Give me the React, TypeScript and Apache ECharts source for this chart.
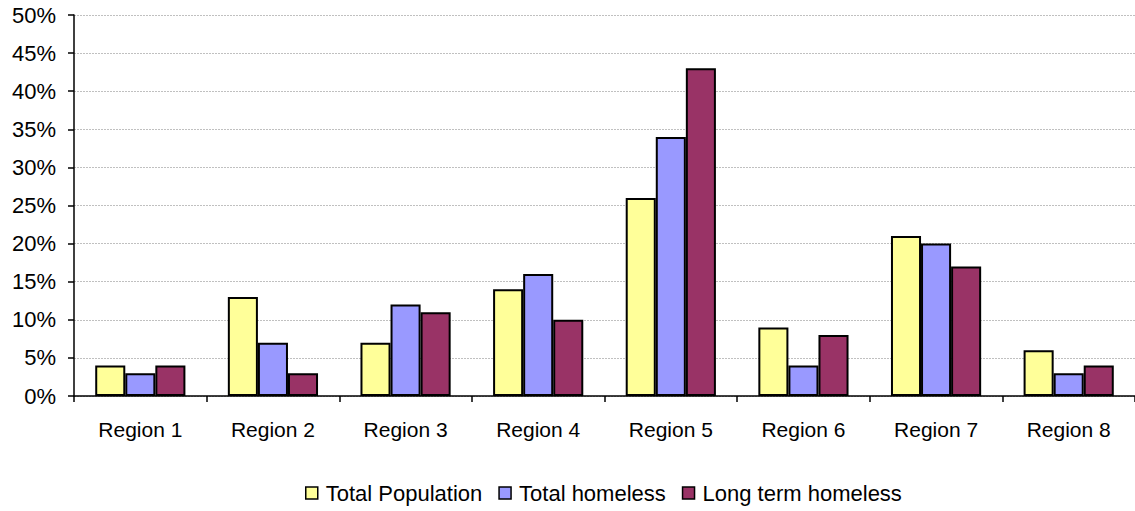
import React, { useEffect, useRef } from "react";
import * as echarts from "echarts";

const categories = ["Region 1", "Region 2", "Region 3", "Region 4", "Region 5", "Region 6", "Region 7", "Region 8"];
const totalPopulation = [4, 13, 7, 14, 26, 9, 21, 6];
const totalHomeless = [3, 7, 12, 16, 34, 4, 20, 3];
const longTermHomeless = [4, 3, 11, 10, 43, 8, 17, 4];
const seriesNames = ["Total Population", "Total homeless", "Long term homeless"];
const colors = ["#FFFF99", "#9999FF", "#993366"];

export default function App() {
  const ref = useRef<HTMLDivElement>(null);
  useEffect(() => {
    if (!ref.current) return;
    const chart = echarts.init(ref.current, undefined, { renderer: "svg" });
    const font = "Arial, 'Liberation Sans', sans-serif";
    const data = [totalPopulation, totalHomeless, longTermHomeless];
    chart.setOption({
      animation: false,
      textStyle: { fontFamily: font },
      grid: { left: 74, right: 0, top: 15, bottom: 115, containLabel: false },
      legend: {
        bottom: 2,
        left: 300,
        itemWidth: 12,
        itemHeight: 12,
        itemGap: 16,
        icon: "rect",
        itemStyle: { borderColor: "#000", borderWidth: 1.5 },
        textStyle: { fontSize: 22, color: "#000", fontFamily: font, padding: [0, 0, 0, 3] },
        data: seriesNames,
      },
      xAxis: {
        type: "category",
        data: categories,
        axisLine: { lineStyle: { color: "#000", width: 1.5 } },
        axisTick: { show: true, alignWithLabel: false, length: 6, lineStyle: { color: "#000", width: 1.5 } },
        axisLabel: { fontSize: 21, color: "#000", margin: 23, fontFamily: font },
      },
      yAxis: {
        type: "value",
        min: 0,
        max: 50,
        interval: 5,
        axisLine: { show: true, lineStyle: { color: "#000", width: 1.5 } },
        axisTick: { show: true, length: 6, lineStyle: { color: "#000", width: 1.5 } },
        axisLabel: { fontSize: 22, color: "#000", margin: 18, formatter: "{value}%", fontFamily: font },
        splitLine: { show: true, lineStyle: { color: "#c0c0c0", type: [2, 1], width: 1 } },
      },
      series: seriesNames.map((name, i) => ({
        name,
        type: "bar",
        data: data[i],
        barGap: "0%",
        barCategoryGap: "32%",
        itemStyle: { color: colors[i], borderColor: "#000", borderWidth: 2 },
      })),
    });
    return () => chart.dispose();
  }, []);
  return <div ref={ref} style={{ position: "fixed", left: 0, top: 0, width: 1135, height: 511, background: "#fff" }} />;
}
